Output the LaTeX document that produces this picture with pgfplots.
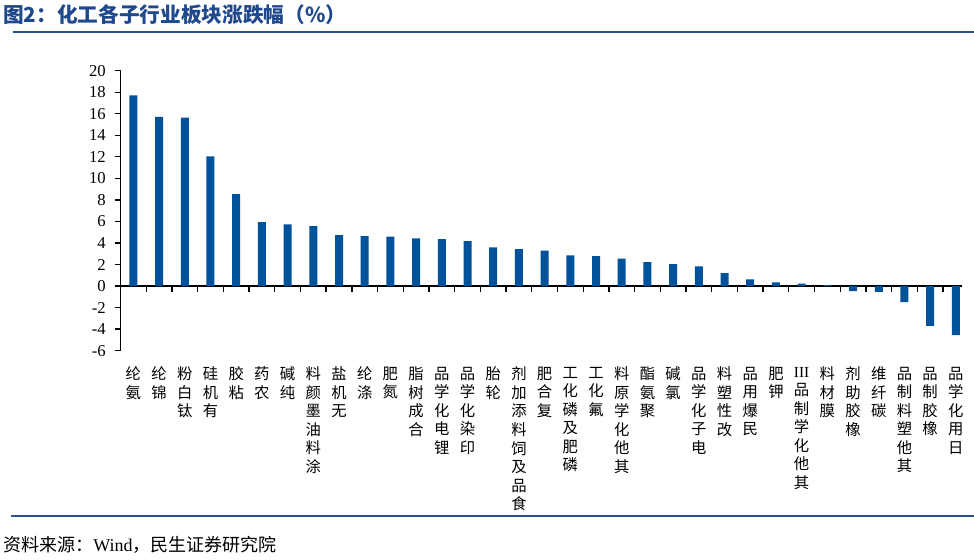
\documentclass[border=0pt]{standalone}
\usepackage{pgfplots}
\pgfplotsset{compat=1.18}
\usepackage{pgfplotstable}
\usepackage{fontspec}
\setmainfont{Liberation Serif}
\newfontfamily\cjk{Noto Sans CJK SC}
\definecolor{barblue}{RGB}{0,82,155}
\definecolor{ruleblue}{RGB}{41,82,148}
\definecolor{titleblue}{RGB}{31,73,140}

% index, change (%)
\pgfplotstableread{
i v
0 17.70
1 15.70
2 15.65
3 12.04
4 8.54
5 5.94
6 5.72
7 5.57
8 4.74
9 4.64
10 4.58
11 4.43
12 4.36
13 4.18
14 3.59
15 3.43
16 3.28
17 2.85
18 2.79
19 2.54
20 2.23
21 2.04
22 1.83
23 1.21
24 0.62
25 0.34
26 0.22
27 0.08
28 -0.46
29 -0.55
30 -1.50
31 -3.70
32 -4.55
}\chg

\begin{document}
\begin{tikzpicture}
\useasboundingbox (0,0) rectangle (730.5pt,420pt);
\node[anchor=base west, inner sep=0, text=titleblue,
      font=\cjk\bfseries\fontsize{15.5}{18}\selectfont] at (2.25pt,403pt)
      {图2：化工各子行业板块涨跌幅（\%）};
\draw[ruleblue, line width=1.6pt] (9.75pt,396pt) -- (730.5pt,396pt);
\draw[ruleblue, line width=1.6pt] (8.25pt,33.2pt) -- (730.5pt,33.2pt);
\node[anchor=base west, inner sep=0, font=\cjk\fontsize{13.5}{16}\selectfont]
      at (2.25pt,6.5pt) {资料来源：{\rmfamily Wind}，民生证券研究院};
\begin{axis}[
    scale only axis,
    width=631.3pt, height=210pt,
    at={(90.4pt,157pt)}, anchor=south west,
    xmin=-0.5, xmax=32.25, ymin=-6, ymax=20,
    axis x line*=middle, axis y line*=left,
    axis line style={black, line width=1.1pt},
    ytick={-6,-4,...,20},
    xtick={0,...,32},
    minor xtick={0.5,1.5,...,31.5},
    tick align=outside,
    major tick length=4.5pt, minor tick length=4.5pt,
    major x tick style={draw=none},
    minor x tick style={black, line width=1pt},
    ytick style={black, line width=1pt},
    /pgf/number format/assume math mode=true,
    yticklabel style={font=\fontsize{12.5}{14}\selectfont, xshift=-3pt},
    xticklabel style={font=\cjk\fontsize{11.5}{13.9}\selectfont, align=center,
                      anchor=north, inner sep=0pt, yshift=-56pt},
    xticklabels={
      {纶\\氨},{纶\\锦},{粉\\白\\钛},{硅\\机\\有},{胶\\粘},{药\\农},{碱\\纯},
      {料\\颜\\墨\\油\\料\\涂},{盐\\机\\无},{纶\\涤},{肥\\氮},{脂\\树\\成\\合},
      {品\\学\\化\\电\\锂},{品\\学\\化\\染\\印},{胎\\轮},
      {剂\\加\\添\\料\\饲\\及\\品\\食},{肥\\合\\复},{工\\化\\磷\\及\\肥\\磷},
      {工\\化\\氟},{料\\原\\学\\化\\他\\其},{酯\\氨\\聚},{碱\\氯},
      {品\\学\\化\\子\\电},{料\\塑\\性\\改},{品\\用\\爆\\民},{肥\\钾},
      {{\rmfamily III}\\品\\制\\学\\化\\他\\其},{料\\材\\膜},{剂\\助\\胶\\橡},
      {维\\纤\\碳},{品\\制\\料\\塑\\他\\其},{品\\制\\胶\\橡},{品\\学\\化\\用\\日}
    },
  ]
  \addplot[ybar, bar width=6pt, fill=barblue, draw=none] table[x=i, y=v] {\chg};
\end{axis}
\end{tikzpicture}
\end{document}
